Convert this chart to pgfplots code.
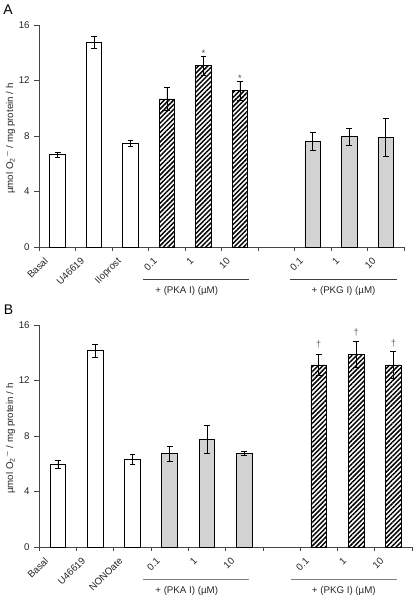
\documentclass[border=0pt]{standalone}
\usepackage{fontspec}
\setmainfont{Liberation Sans}
\usepackage{pgfplots}
\pgfplotsset{compat=1.18}
\usetikzlibrary{patterns.meta}
\definecolor{barg}{RGB}{210,210,210}
\definecolor{axc}{RGB}{70,70,70}
\pgfplotsset{
  panel/.style={
    scale only axis, height=166.5pt,
    xmin=-0.5, xmax=9.5, ymin=0, ymax=16, enlargelimits=false,
    axis lines*=left, axis line style={axc, line width=0.6pt},
    ytick={0,4,8,12,16},
    xtick={0,...,9},
    minor xtick={-0.5,0.5,...,9.5},
    major x tick style={draw=none},
    tick style={axc, line width=0.6pt},
    tick align=outside,
    major tick length=3.75pt, minor tick length=2.8pt,
    /pgf/number format/assume math mode=true,
    tick label style={font=\fontsize{7.3}{8}\selectfont, text=black!85},
    xticklabel style={xshift=-10.5pt, yshift=-1.8pt, rotate=45, anchor=north east, inner sep=1pt},
    ylabel={µmol O\textsubscript{2}\textsuperscript{·–} / mg protein / h},
    ylabel style={at={(axis description cs:0,0.5)}, anchor=center, yshift=21.6pt, xshift=-2pt, font=\fontsize{7.3}{8}\selectfont, text=black!85},
    clip=false,
    ybar, bar width=11.8pt, bar shift=0pt,
  },
  errs/.style={
    error bars/y dir=both, error bars/y explicit,
    error bars/error bar style={black, line width=0.6pt},
    error bars/error mark options={rotate=90, mark size=2.2pt, black, line width=0.6pt},
  },
  whitebar/.style={errs, draw=black, fill=white, line width=0.6pt},
  graybar/.style={errs, draw=black, fill=barg, line width=0.6pt},
  hatchbar/.style={errs, draw=black, line width=0.6pt, preaction={fill=white}, pattern={Lines[angle=45,distance=2.5pt,line width=1.1pt]}, pattern color=black},
}
\begin{document}
\begin{tikzpicture}
\useasboundingbox (0,0) rectangle (312pt,449.25pt);
% Panel A
\begin{axis}[panel, at={(29.5pt,264pt)}, anchor=south west, width=273.5pt,
  xticklabels={Basal,U46619,Iloprost,0.1,1,10,,0.1,1,10}]
\addplot+[whitebar] coordinates {(0,6.65) +- (0,0.2) (1,14.75) +- (0,0.45) (2,7.47) +- (0,0.24)};
\addplot+[hatchbar] coordinates {(3,10.67) +- (0,0.84) (4,13.07) +- (0,0.7) (5,11.26) +- (0,0.66)};
\addplot+[graybar] coordinates {(7,7.62) +- (0,0.65) (8,7.95) +- (0,0.6) (9,7.9) +- (0,1.38)};
\node[font=\fontsize{7}{8}\selectfont, text=black!70] at (axis cs:4,13.98) {*};
\node[font=\fontsize{7}{8}\selectfont, text=black!70] at (axis cs:5,12.18) {*};
\end{axis}
% Panel B
\begin{axis}[panel, at={(29.5pt,39pt)}, anchor=south west, width=279.5pt,
  xticklabels={Basal,U46619,NONOate,0.1,1,10,,0.1,1,10}]
\addplot+[whitebar] coordinates {(0,5.96) +- (0,0.31) (1,14.15) +- (0,0.48) (2,6.32) +- (0,0.38)};
\addplot+[graybar] coordinates {(3,6.73) +- (0,0.53) (4,7.76) +- (0,1.03) (5,6.73) +- (0,0.14)};
\addplot+[hatchbar] coordinates {(7,13.12) +- (0,0.78) (8,13.9) +- (0,0.93) (9,13.12) +- (0,0.98)};
\node[font=\fontsize{7}{8}\selectfont, text=black!60] at (axis cs:7,14.63) {†};
\node[font=\fontsize{7}{8}\selectfont, text=black!60] at (axis cs:8,15.5) {†};
\node[font=\fontsize{7}{8}\selectfont, text=black!60] at (axis cs:9,14.7) {†};
\end{axis}
\begin{scope}[x=0.75pt,y=0.75pt]
\node[font=\fontsize{10.5}{12}\selectfont] at (8,589) {A};
\node[font=\fontsize{10.5}{12}\selectfont] at (8.5,289) {B};
\draw[black!75, line width=0.5pt] (142.7,320) -- (249,320);
\draw[black!75, line width=0.5pt] (290,320) -- (396.7,320);
\draw[black!50, line width=0.5pt] (142.7,19.7) -- (249,19.7);
\draw[black!50, line width=0.5pt] (290.7,19.7) -- (396.7,19.7);
\node[font=\fontsize{7.3}{8}\selectfont, text=black!85] at (186.7,308) {+ (PKA I) (µM)};
\node[font=\fontsize{7.3}{8}\selectfont, text=black!85] at (343.5,308) {+ (PKG I) (µM)};
\node[font=\fontsize{7.3}{8}\selectfont, text=black!85] at (186.7,8) {+ (PKA I) (µM)};
\node[font=\fontsize{7.3}{8}\selectfont, text=black!85] at (343.8,8) {+ (PKG I) (µM)};
\end{scope}
\end{tikzpicture}
\end{document}
